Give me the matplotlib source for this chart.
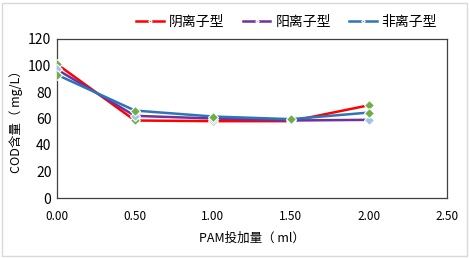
import matplotlib
matplotlib.use("Agg")
from matplotlib import pyplot as plt
from matplotlib.patches import Rectangle

plt.rcParams['font.family'] = ['Noto Sans CJK SC', 'DejaVu Sans']

pam_dose = [0.0, 0.5, 1.0, 1.5, 2.0]
anionic = [101, 58.5, 58, 58, 70]
cationic = [97, 62, 60, 58.5, 59]
nonionic = [93, 66, 61.5, 59.5, 64.5]
series_names = ['阴离子型', '阳离子型', '非离子型']

line_colors = ['#FF0000', '#7030A0', '#2E75B6']
marker_colors = ['#70AD47', '#9DC3E6', '#70AD47']

fig = plt.figure(figsize=(4.69, 2.58), dpi=100)
ax = fig.add_axes([57 / 469, 60 / 258, 390 / 469, 159 / 258])

for vals, name, lc, mc in zip([anionic, cationic, nonionic], series_names, line_colors, marker_colors):
    ax.plot(pam_dose, vals, color=lc, lw=1.8, label=name,
            marker='D', markersize=5, markerfacecolor=mc, markeredgecolor='white',
            markeredgewidth=0.8, zorder=3)

ax.set_xlim(0, 2.5)
ax.set_ylim(0, 120)
ax.set_xticks([0, 0.5, 1.0, 1.5, 2.0, 2.5])
ax.set_xticklabels(['%.2f' % t for t in [0, 0.5, 1.0, 1.5, 2.0, 2.5]], fontsize=8.5)
ax.set_yticks(range(0, 121, 20))
ax.tick_params(axis='y', labelsize=10, length=0, pad=4)
ax.tick_params(axis='x', length=0, pad=9)
for s in ax.spines.values():
    s.set_color('#404040')
    s.set_linewidth(0.9)

ax.set_xlabel('PAM投加量（ ml）', fontsize=9, labelpad=6)
ax.set_ylabel('COD含量（ mg/L）', fontsize=9, labelpad=4)

ax.legend(loc='center right', bbox_to_anchor=(437 / 469, 1 - 22 / 258), bbox_transform=fig.transFigure,
          ncol=3, frameon=False, fontsize=10, handlelength=2.0, markerscale=0.35,
          columnspacing=1.3, handletextpad=0.35, borderaxespad=0, borderpad=0)

fig.patches.append(Rectangle((2 / 469, 2 / 258), 465 / 469, 253 / 258, transform=fig.transFigure,
                             fill=False, edgecolor='#D9D9D9', lw=1))

fig.savefig('out.png', dpi=100)
